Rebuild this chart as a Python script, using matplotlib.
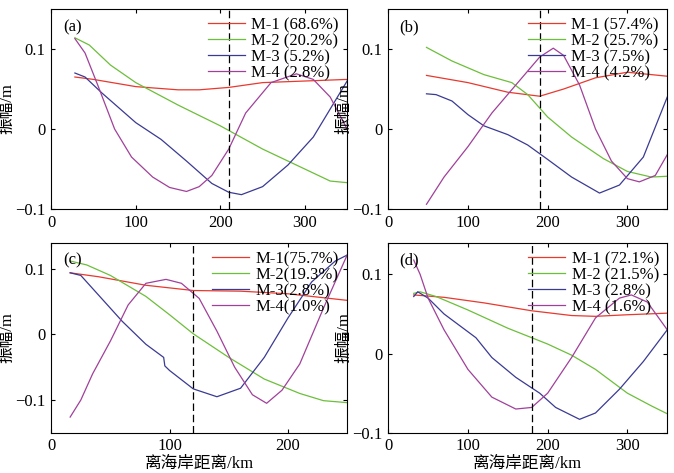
import numpy as np
import matplotlib
matplotlib.use("Agg")
import matplotlib.pyplot as plt

plt.rcParams['font.family'] = ['Liberation Serif', 'Noto Sans CJK SC']
plt.rcParams['axes.unicode_minus'] = True

# ---- data ----
a_x1 = [28, 50, 100, 150, 175, 210, 250, 300, 350]
a_y1 = [0.065, 0.062, 0.053, 0.049, 0.049, 0.052, 0.058, 0.060, 0.062]
a_x2 = [28, 45, 70, 100, 150, 200, 250, 300, 330, 350]
a_y2 = [0.114, 0.105, 0.080, 0.058, 0.030, 0.004, -0.025, -0.050, -0.065, -0.067]
a_x3 = [28, 40, 60, 100, 130, 160, 190, 210, 225, 250, 280, 310, 350]
a_y3 = [0.070, 0.065, 0.045, 0.008, -0.013, -0.040, -0.068, -0.079, -0.082, -0.072, -0.045, -0.010, 0.060]
a_x4 = [28, 40, 55, 75, 95, 120, 140, 160, 175, 190, 210, 230, 260, 290, 310, 330, 350]
a_y4 = [0.113, 0.095, 0.055, 0.0, -0.035, -0.060, -0.073, -0.078, -0.072, -0.058, -0.025, 0.020, 0.058, 0.069, 0.062, 0.040, 0.0]

b_x1 = [48, 100, 150, 190, 220, 260, 300, 350]
b_y1 = [0.067, 0.058, 0.046, 0.041, 0.050, 0.064, 0.071, 0.066]
b_x2 = [48, 80, 120, 155, 175, 200, 230, 270, 300, 330, 350]
b_y2 = [0.102, 0.085, 0.068, 0.058, 0.043, 0.015, -0.010, -0.037, -0.053, -0.060, -0.059]
b_x3 = [48, 60, 80, 100, 120, 150, 175, 200, 230, 265, 290, 320, 350]
b_y3 = [0.044, 0.043, 0.035, 0.018, 0.004, -0.007, -0.020, -0.038, -0.060, -0.080, -0.070, -0.035, 0.040]
b_x4 = [48, 70, 100, 130, 160, 190, 207, 220, 240, 260, 280, 300, 315, 335, 350]
b_y4 = [-0.094, -0.060, -0.022, 0.020, 0.055, 0.090, 0.101, 0.092, 0.055, 0.0, -0.040, -0.062, -0.066, -0.058, -0.032]

c_x1 = [16, 40, 80, 120, 160, 200, 250]
c_y1 = [0.094, 0.088, 0.075, 0.067, 0.066, 0.062, 0.052]
c_x2 = [16, 30, 50, 80, 100, 120, 150, 180, 210, 230, 250]
c_y2 = [0.112, 0.106, 0.090, 0.058, 0.030, 0.001, -0.035, -0.068, -0.090, -0.101, -0.104]
c_x3 = [16, 25, 40, 60, 80, 95, 96, 100, 120, 140, 160, 180, 200, 220, 240, 250]
c_y3 = [0.094, 0.090, 0.060, 0.020, -0.015, -0.035, -0.048, -0.055, -0.083, -0.095, -0.082, -0.035, 0.025, 0.080, 0.112, 0.121]
c_x4 = [16, 25, 35, 50, 65, 80, 97, 110, 125, 140, 155, 170, 182, 195, 210, 230, 250]
c_y4 = [-0.126, -0.100, -0.060, -0.010, 0.045, 0.078, 0.084, 0.078, 0.055, 0.005, -0.050, -0.092, -0.105, -0.085, -0.045, 0.040, 0.121]

d_x1 = [32, 70, 120, 180, 230, 260, 300, 350]
d_y1 = [0.074, 0.071, 0.064, 0.054, 0.048, 0.047, 0.049, 0.051]
d_x2 = [32, 40, 60, 100, 150, 200, 230, 260, 300, 330, 350]
d_y2 = [0.076, 0.078, 0.072, 0.055, 0.032, 0.012, -0.002, -0.020, -0.050, -0.066, -0.076]
d_x3 = [32, 37, 50, 70, 90, 110, 130, 160, 190, 210, 240, 260, 290, 320, 350]
d_y3 = [0.072, 0.078, 0.070, 0.050, 0.035, 0.020, -0.005, -0.030, -0.050, -0.068, -0.083, -0.075, -0.045, -0.010, 0.030]
d_x4 = [32, 40, 50, 70, 100, 130, 160, 180, 200, 230, 260, 290, 305, 325, 350]
d_y4 = [0.118, 0.100, 0.070, 0.030, -0.020, -0.055, -0.070, -0.068, -0.050, -0.005, 0.045, 0.070, 0.074, 0.065, 0.030]

labels_a = ['M-1 (68.6%)', 'M-2 (20.2%)', 'M-3 (5.2%)', 'M-4 (2.8%)']
labels_b = ['M-1 (57.4%)', 'M-2 (25.7%)', 'M-3 (7.5%)', 'M-4 (4.2%)']
labels_c = ['M-1(75.7%)', 'M-2(19.3%)', 'M-3(2.8%)', 'M-4(1.0%)']
labels_d = ['M-1 (72.1%)', 'M-2 (21.5%)', 'M-3 (2.8%)', 'M-4 (1.6%)']

colors = ['#e8392f', '#6cbf3a', '#3a3a94', '#a0409a']

fig = plt.figure(figsize=(6.74, 4.73), dpi=100)

def panel(rect, tag, series, labels, xmax, ylim, vline, xlabel):
    ax = fig.add_axes(rect)
    for (x, y), lab, c in zip(series, labels, colors):
        ax.plot(x, y, color=c, lw=0.9, label=lab)
    ax.axvline(vline, color='k', ls=(0, (6, 3)), lw=0.9)
    ax.set_xlim(0, xmax)
    ax.set_ylim(*ylim)
    ax.set_xticks(range(0, xmax + 1, 100))
    ax.set_yticks([-0.1, 0, 0.1])
    ax.set_yticklabels(['\u22120.1', '0', '0.1'])
    ax.tick_params(direction='in', top=True, right=True, labelsize=12, length=3, pad=4)
    ax.set_ylabel('振幅/m', fontsize=12, labelpad=0)
    if xlabel:
        ax.set_xlabel('离海岸距离/km', fontsize=12, labelpad=1)
    ax.text(0.04, 0.95, tag, transform=ax.transAxes, fontsize=12, va='top')
    ax.legend(loc='upper right', frameon=False, fontsize=12, handlelength=2.2,
              labelspacing=0.0, borderaxespad=0.1, handletextpad=0.4)
    return ax

panel([0.076, 0.558, 0.439, 0.423], '(a)',
      [(a_x1, a_y1), (a_x2, a_y2), (a_x3, a_y3), (a_x4, a_y4)], labels_a,
      350, (-0.1, 0.15), 210, False)
panel([0.576, 0.558, 0.414, 0.423], '(b)',
      [(b_x1, b_y1), (b_x2, b_y2), (b_x3, b_y3), (b_x4, b_y4)], labels_b,
      350, (-0.1, 0.15), 191, False)
panel([0.076, 0.085, 0.439, 0.402], '(c)',
      [(c_x1, c_y1), (c_x2, c_y2), (c_x3, c_y3), (c_x4, c_y4)], labels_c,
      250, (-0.15, 0.14), 120, True)
panel([0.576, 0.085, 0.414, 0.402], '(d)',
      [(d_x1, d_y1), (d_x2, d_y2), (d_x3, d_y3), (d_x4, d_y4)], labels_d,
      350, (-0.1, 0.14), 180, True)

fig.savefig('out.png', dpi=100)
